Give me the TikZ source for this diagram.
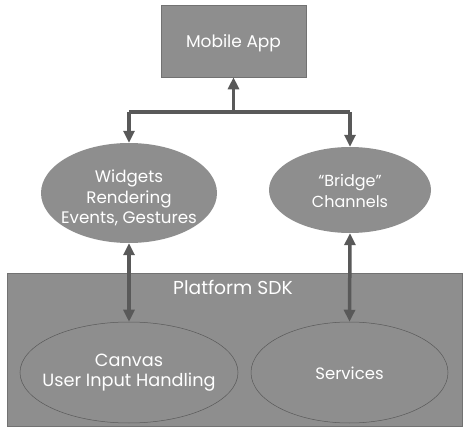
\documentclass[tikz,border=0pt]{standalone}
\usepackage{fontspec}
\setmainfont{Poppins}
\usetikzlibrary{shapes.geometric,arrows.meta}
\definecolor{boxgray}{HTML}{8E8E8E}
\definecolor{linegray}{HTML}{595959}
\tikzset{
  box/.style={draw=boxgray!80!black, fill=boxgray, line width=0.6pt},
  ell/.style={ellipse, fill=boxgray, inner sep=0pt},
  ellb/.style={ellipse, fill=boxgray, draw=linegray, line width=0.5pt, inner sep=0pt},
  lbl/.style={text=white, align=center, inner sep=0pt},
  conn/.style={draw=linegray, line width=3.5pt, -{Triangle[length=12pt,width=11pt]}},
  conn2/.style={draw=linegray, line width=3.5pt, {Triangle[length=12pt,width=11pt]}-{Triangle[length=12pt,width=11pt]}},
}
\begin{document}
\begin{tikzpicture}[x=1pt,y=-1pt]
\useasboundingbox (0,0) rectangle (472,433);
\fill[white] (0,0) rectangle (472,433);
% Mobile App
\node[box, minimum width=145pt, minimum height=72pt] (app) at (233.5,41) {};
\node[lbl, font=\fontsize{17}{20}\selectfont] (appl) at (233.5,43.5) {Mobile App};
% top ellipses
\node[ell, minimum width=176pt, minimum height=100pt] (wid) at (129,193) {};
\node[lbl, font=\fontsize{16.7}{20.3}\selectfont] (widl) at (129,198) {Widgets\\Rendering\\Events, Gestures};
\node[ell, minimum width=162pt, minimum height=86pt] (bri) at (350,190) {};
\node[lbl, font=\fontsize{16}{21}\selectfont] (bril) at (350,191) {“Bridge”\\Channels};
% Platform SDK
\node[box, minimum width=455pt, minimum height=153pt] (sdk) at (234.5,349.5) {};
\node[lbl, font=\fontsize{18.7}{22}\selectfont] (sdkl) at (233,287.4) {Platform SDK};
\node[ellb, minimum width=218pt, minimum height=101pt] (can) at (129,372.5) {};
\node[lbl, font=\fontsize{17.7}{20}\selectfont] (canl) at (129,372.7) {Canvas\\User Input Handling};
\node[ellb, minimum width=197pt, minimum height=101pt] (ser) at (349.5,372.5) {};
\node[lbl, font=\fontsize{16.5}{20}\selectfont] (serl) at (349.5,373) {Services};
% connectors
\coordinate (j) at (233.5,112);
\draw[draw=linegray, line width=3.5pt] (wid.north |- j) -- (bri.north |- j);
\draw[conn] (j) -- (app.south);
\draw[conn, line cap=butt] (wid.north |- j) -- (wid.north);
\draw[conn] (bri.north |- j) -- (bri.north);
\draw[conn2] (wid.south) -- (can.north);
\draw[conn2] (bri.south) -- (ser.north);
\end{tikzpicture}
\end{document}
